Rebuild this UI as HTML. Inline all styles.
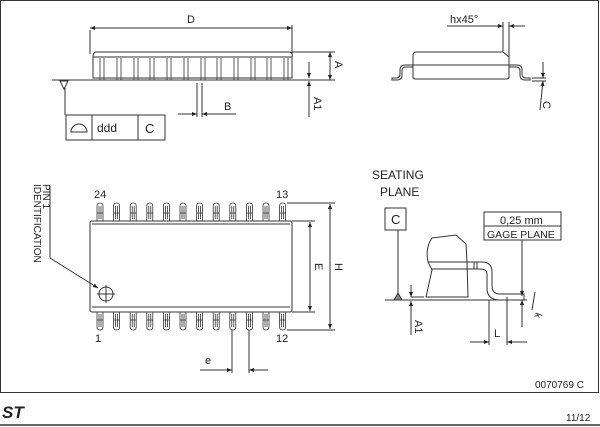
<!DOCTYPE html>
<html><head><style>
html,body{margin:0;padding:0;background:#fff;}
svg{display:block;font-family:"Liberation Sans",sans-serif;}
</style></head><body>
<svg width="600" height="427" viewBox="0 0 600 427" xmlns="http://www.w3.org/2000/svg">
<defs>
<marker id="ar" viewBox="0 0 10 10" refX="10" refY="5" markerWidth="7" markerHeight="5" orient="auto-start-reverse"><path d="M0,1 L10,5 L0,9z" fill="#222"/></marker>
</defs>
<g stroke="#333" fill="none" stroke-width="1">
<rect x="0.5" y="0.5" width="598" height="392"/>
<line x1="0" y1="425" x2="600" y2="425" stroke-width="1.5"/>

<!-- TOP LEFT side view -->
<path d="M96,52 H290 Q293,53 292,57 V78 H93 V57 Q93,52 96,52Z"/>
<line x1="93" y1="57" x2="292" y2="57"/>
<g stroke-width="0.8">
<path d="M100,58V80M104,58V80M117,58V80M121,58V80M134,58V80M138,58V80M150,58V80M154,58V80M167,58V80M171,58V80M184,58V80M188,58V80M201,58V80M205,58V80M217,58V80M221,58V80M234,58V80M238,58V80M251,58V80M255,58V80M267,58V80M271,58V80M284,58V80M288,58V80"/>
</g>
<line x1="90" y1="28" x2="292" y2="28" marker-start="url(#ar)" marker-end="url(#ar)"/>
<line x1="90" y1="30" x2="90" y2="54"/><line x1="292" y1="25" x2="292" y2="54"/>
<line x1="292" y1="52" x2="335" y2="52"/><line x1="292" y1="80" x2="335" y2="80"/>
<line x1="330" y1="52" x2="330" y2="80" marker-start="url(#ar)" marker-end="url(#ar)"/>
<line x1="52" y1="80" x2="312" y2="80"/>
<line x1="309" y1="62" x2="309" y2="78" marker-end="url(#ar)"/>
<line x1="309" y1="117" x2="309" y2="81" marker-end="url(#ar)"/>
<line x1="197" y1="83" x2="197" y2="117"/><line x1="202" y1="83" x2="202" y2="117"/>
<line x1="178" y1="114" x2="197" y2="114" marker-end="url(#ar)"/>
<line x1="236" y1="114" x2="202" y2="114" marker-end="url(#ar)"/>
<path d="M60,81 L68,81 L64,89Z"/>
<line x1="65" y1="88" x2="65" y2="115"/>
<rect x="66" y="115" width="99" height="25"/>
<line x1="92" y1="115" x2="92" y2="140"/><line x1="138" y1="115" x2="138" y2="140"/>
<path d="M71,132 A8,8 0 0 1 87,132Z"/>

<!-- TOP RIGHT side view -->
<path d="M416,52 H503 L509,57 V65 H413 V56 Q413,52 416,52Z"/>
<path d="M413,65 H509 V77 Q509,79 506,79 H416 Q413,79 413,77Z"/>
<path d="M413,65 H405 Q400,65 400,70 V74 Q400,78 396,78 H392 V80 H397 Q402,80 402,75 V71 Q402,67 406,67 H413"/>
<path d="M509,65 H517 Q522,65 522,70 V74 Q522,78 526,78 H530 V80 H525 Q520,80 520,75 V71 Q520,67 516,67 H509"/>
<line x1="447" y1="26" x2="503" y2="26" marker-end="url(#ar)"/>
<line x1="525" y1="26" x2="509" y2="26" marker-end="url(#ar)"/>
<line x1="503" y1="22" x2="503" y2="52"/><line x1="509" y1="22" x2="509" y2="57"/>
<line x1="532" y1="78" x2="546" y2="78"/><line x1="532" y1="81" x2="546" y2="81"/>
<line x1="543" y1="62" x2="543" y2="78" marker-end="url(#ar)"/>
<line x1="540" y1="110" x2="543" y2="81" marker-end="url(#ar)"/>

<!-- BOTTOM LEFT top view -->
<rect x="90" y="221" width="202" height="91" rx="2"/>
<line x1="92" y1="224" x2="290" y2="224"/><line x1="92" y1="307" x2="290" y2="307"/>
<g id="tl" stroke-width="0.8">
<path d="M97,221V206Q97,203 100,203Q103,203 103,206V221M99,206V219M101,206V219M97,213H103"/>
</g>
<use href="#tl" x="16.6"/><use href="#tl" x="33.2"/><use href="#tl" x="49.8"/><use href="#tl" x="66.4"/><use href="#tl" x="83"/><use href="#tl" x="99.6"/><use href="#tl" x="116.2"/><use href="#tl" x="132.8"/><use href="#tl" x="149.4"/><use href="#tl" x="166"/><use href="#tl" x="182.6"/>
<g id="bl" stroke-width="0.8">
<path d="M97,312V327Q97,330 100,330Q103,330 103,327V312M99,314V327M101,314V327M97,320H103"/>
</g>
<use href="#bl" x="16.6"/><use href="#bl" x="33.2"/><use href="#bl" x="49.8"/><use href="#bl" x="66.4"/><use href="#bl" x="83"/><use href="#bl" x="99.6"/><use href="#bl" x="116.2"/><use href="#bl" x="132.8"/><use href="#bl" x="149.4"/><use href="#bl" x="166"/><use href="#bl" x="182.6"/>
<circle cx="106" cy="294" r="7"/>
<line x1="97" y1="294" x2="115" y2="294"/><line x1="106" y1="285" x2="106" y2="303"/>
<line x1="50" y1="258" x2="98" y2="288" marker-end="url(#ar)"/>
<line x1="50" y1="186" x2="50" y2="258"/>
<line x1="292" y1="221" x2="315" y2="221"/><line x1="292" y1="312" x2="315" y2="312"/>
<line x1="310" y1="222" x2="310" y2="311" marker-start="url(#ar)" marker-end="url(#ar)"/>
<line x1="287" y1="203" x2="335" y2="203"/><line x1="287" y1="330" x2="335" y2="330"/>
<line x1="330" y1="204" x2="330" y2="329" marker-start="url(#ar)" marker-end="url(#ar)"/>
<line x1="232" y1="330" x2="232" y2="373"/><line x1="249" y1="330" x2="249" y2="373"/>
<line x1="200" y1="370" x2="232" y2="370" marker-end="url(#ar)"/>
<line x1="268" y1="370" x2="249" y2="370" marker-end="url(#ar)"/>

<!-- BOTTOM RIGHT detail -->
<rect x="385" y="208" width="21" height="22"/>
<line x1="398" y1="230" x2="398" y2="296"/>
<path d="M394,300 L398,293 L402,300Z" fill="#888"/>
<line x1="385" y1="300" x2="527" y2="300"/>
<line x1="411" y1="285" x2="411" y2="297" marker-end="url(#ar)"/>
<line x1="411" y1="335" x2="411" y2="301" marker-end="url(#ar)"/>
<line x1="411" y1="297" x2="424" y2="297"/>
<path d="M432,238 L456,235 L466,244 L467,262 L468,297 H426 L432,270 L428,262 Q425,248 432,238Z"/>
<line x1="428" y1="262" x2="477" y2="262"/><line x1="431" y1="269" x2="477" y2="269"/>
<path d="M477,262 H482 Q492,262 492,272 V286 Q492,294 500,294 H524 V300 H500 Q487,300 487,288 V274 Q487,269 480,269 H477"/>
<line x1="474" y1="262" x2="474" y2="269"/><line x1="477" y1="262" x2="477" y2="269"/>
<rect x="484" y="212" width="77" height="28"/>
<line x1="484" y1="226" x2="561" y2="226"/>
<line x1="522" y1="240" x2="522" y2="296" marker-end="url(#ar)"/>
<line x1="522" y1="327" x2="522" y2="300" marker-end="url(#ar)"/>
<line x1="489" y1="300" x2="489" y2="345"/><line x1="507" y1="297" x2="507" y2="345"/>
<line x1="470" y1="342" x2="489" y2="342" marker-end="url(#ar)"/>
<line x1="527" y1="342" x2="507" y2="342" marker-end="url(#ar)"/>
<line x1="535" y1="292" x2="532" y2="310"/>
</g>
<g fill="#222" font-size="11">
<text x="187" y="23">D</text>
<text x="224" y="110">B</text>
<text transform="translate(335,61) rotate(90)">A</text>
<text transform="translate(314,97) rotate(90)">A1</text>
<text x="97" y="132" font-size="12">ddd</text>
<text x="145" y="133" font-size="13">C</text>
<text x="450" y="23">hx45°</text>
<text transform="translate(543,101) rotate(90)">C</text>
<text x="94" y="198">24</text>
<text x="276" y="198">13</text>
<text x="95" y="342">1</text>
<text x="276" y="342">12</text>
<text transform="translate(315,263) rotate(90)">E</text>
<text transform="translate(335,263) rotate(90)">H</text>
<text x="205" y="364">e</text>
<text transform="translate(43,184) rotate(90)" font-size="10">PIN 1</text>
<text transform="translate(34,184) rotate(90)" font-size="10">IDENTIFICATION</text>
<text x="372" y="179" font-size="12">SEATING</text>
<text x="380" y="196" font-size="12">PLANE</text>
<text x="391" y="224" font-size="13">C</text>
<text x="500" y="224">0,25 mm</text>
<text x="487" y="238" font-size="10.5">GAGE PLANE</text>
<text transform="translate(415,320) rotate(90)">A1</text>
<text x="494" y="337">L</text>
<text transform="translate(536,312) rotate(110)" font-size="10">k</text>
<text x="535" y="388" font-size="10">0070769 C</text>
<text x="566" y="421" font-size="10">11/12</text>
<text x="2" y="418" font-size="17" font-weight="bold" font-style="italic">ST</text>
</g>
</svg>
</body></html>
